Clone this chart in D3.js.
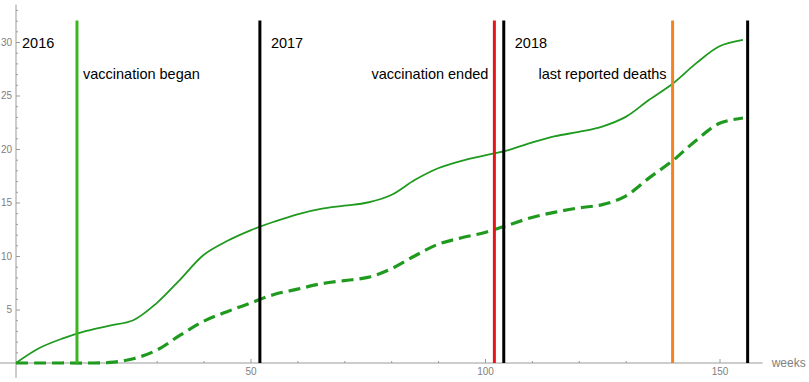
<!DOCTYPE html>
<html>
<head>
<meta charset="utf-8">
<script src="https://cdn.jsdelivr.net/npm/d3@7"></script>
<style>
    body { margin: 0; background: #fff; }
    .tick text { font-family: Arial, "Liberation Sans", sans-serif; font-size: 10px; fill: #808080; }
    .tick line { stroke: #9a9a9a; }
    .note { font-family: Arial, "Liberation Sans", sans-serif; font-size: 14.5px; fill: #000; }
</style>
</head>
<body>
<div id="chart"></div>
<script>

// weeks since start of 2016
var weeks = [0, 5, 10, 15, 20, 25, 30, 35, 40, 45, 50, 55, 60, 65, 70, 75, 80,
    85, 90, 95, 100, 105, 110, 115, 120, 125, 130, 135, 140, 145, 150, 155];

var solidValues = [0, 1.4, 2.3, 3.0, 3.5, 4.0, 5.6, 7.8, 10.1, 11.4, 12.4, 13.2, 13.9, 14.4, 14.7, 15.0, 15.7,
    17.1, 18.2, 18.9, 19.4, 19.9, 20.6, 21.2, 21.6, 22.1, 23.0, 24.6, 26.1, 28.0, 29.6, 30.2];

var dashedValues = [0, 0, 0, 0, 0.05, 0.4, 1.2, 2.6, 3.9, 4.8, 5.6, 6.4, 6.9, 7.4, 7.7, 8.0, 8.8,
    10.0, 11.1, 11.7, 12.2, 12.9, 13.6, 14.1, 14.5, 14.8, 15.6, 17.3, 18.9, 20.8, 22.4, 22.9];

var markerWeeks = [13, 52, 102, 104, 140, 156];
var markerColors = ["#3cb521", "#000000", "#e8141a", "#000000", "#f58220", "#000000"];

var yearLabels = ["2016", "2017", "2018"];
var yearWeeks = [0, 52, 104];

var eventLabels = ["vaccination began", "vaccination ended", "last reported deaths"];
var eventWeeks = [13, 102, 140];
var eventSide = ["right", "left", "left"];

var xMajor = [50, 100, 150];
var yMajor = [5, 10, 15, 20, 25, 30];

var width = 809;
var height = 382;

var svg = d3.select("#chart")
    .append("svg")
    .attr("width", width)
    .attr("height", height);

var xScale = d3.scaleLinear()
    .domain([0, 150])
    .range([16, 719.5]);

var yScale = d3.scaleLinear()
    .domain([0, 30])
    .range([363, 42]);

/*
AXES
*/
var xMinor = d3.range(10, 160, 10).filter(function(d) { return d % 50 != 0; });
var yMinor = d3.range(1, 34, 1).filter(function(d) { return d % 5 != 0; });

svg.append("g")
    .attr("transform", `translate(0,${yScale(0)})`)
    .call(d3.axisBottom(xScale).tickValues(xMinor).tickSize(-2).tickFormat(""))
    .call(function(g) { g.select(".domain").remove(); });

svg.append("g")
    .attr("transform", `translate(0,${yScale(0)})`)
    .call(d3.axisBottom(xScale).tickValues(xMajor).tickSize(-4).tickPadding(5))
    .call(function(g) { g.select(".domain").remove(); });

svg.append("g")
    .attr("transform", `translate(${xScale(0)},0)`)
    .call(d3.axisLeft(yScale).tickValues(yMinor).tickSize(-2).tickFormat(""))
    .call(function(g) { g.select(".domain").remove(); });

svg.append("g")
    .attr("transform", `translate(${xScale(0)},0)`)
    .call(d3.axisLeft(yScale).tickValues(yMajor).tickSize(-4).tickPadding(4))
    .call(function(g) { g.select(".domain").remove(); });

svg.append("line")
    .attr("x1", xScale(-3.4))
    .attr("x2", xScale(159.2))
    .attr("y1", yScale(0))
    .attr("y2", yScale(0))
    .attr("stroke", "#9a9a9a");

svg.append("line")
    .attr("x1", xScale(0))
    .attr("x2", xScale(0))
    .attr("y1", yScale(-1.4))
    .attr("y2", yScale(33.5))
    .attr("stroke", "#9a9a9a");

svg.append("text")
    .attr("x", xScale(159.2) + 9)
    .attr("y", yScale(0))
    .attr("dy", "0.35em")
    .attr("font-family", "Arial, 'Liberation Sans', sans-serif")
    .attr("font-size", 12)
    .attr("fill", "#808080")
    .text("weeks");

/*
CURVES
*/
var solidData = weeks.map(function(w, i) { return { week: w, value: solidValues[i] }; });
var dashedData = weeks.map(function(w, i) { return { week: w, value: dashedValues[i] }; });

var line = d3.line()
    .x(function(d) { return xScale(d.week); })
    .y(function(d) { return yScale(d.value); })
    .curve(d3.curveCatmullRom.alpha(0.5));

svg.append("path")
    .datum(dashedData)
    .attr("d", line)
    .attr("fill", "none")
    .attr("stroke", "#1f9a1f")
    .attr("stroke-width", 3.2)
    .attr("stroke-dasharray", "12,6");

svg.append("path")
    .datum(solidData)
    .attr("d", line)
    .attr("fill", "none")
    .attr("stroke", "#1f9a1f")
    .attr("stroke-width", 1.8);

/*
MARKER LINES
*/
svg.selectAll(".marker")
    .data(markerWeeks)
    .enter()
    .append("line")
    .attr("class", "marker")
    .attr("x1", function(d) { return xScale(d); })
    .attr("x2", function(d) { return xScale(d); })
    .attr("y1", yScale(0))
    .attr("y2", yScale(32))
    .attr("stroke", function(d, i) { return markerColors[i]; })
    .attr("stroke-width", 3);

/*
LABELS
*/
svg.selectAll(".year")
    .data(yearLabels)
    .enter()
    .append("text")
    .attr("class", "note")
    .attr("x", function(d, i) { return xScale(yearWeeks[i]) + (i == 0 ? 6 : 11); })
    .attr("y", yScale(29.9))
    .attr("dy", "0.35em")
    .text(function(d) { return d; });

svg.selectAll(".event")
    .data(eventLabels)
    .enter()
    .append("text")
    .attr("class", "note")
    .attr("x", function(d, i) { return xScale(eventWeeks[i]) + (eventSide[i] == "right" ? 6 : -6); })
    .attr("y", yScale(27))
    .attr("dy", "0.35em")
    .attr("text-anchor", function(d, i) { return eventSide[i] == "right" ? "start" : "end"; })
    .text(function(d) { return d; });

</script>
</body>
</html>
